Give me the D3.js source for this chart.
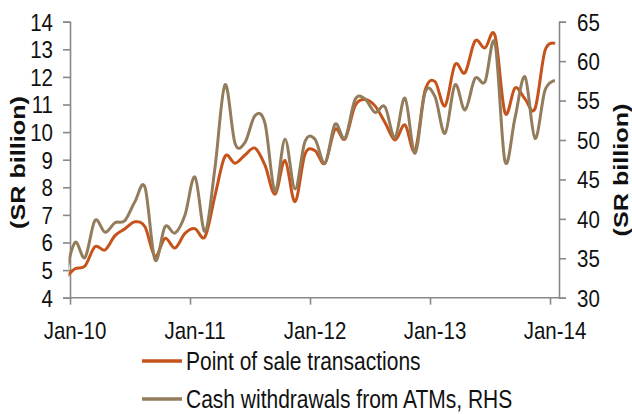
<!DOCTYPE html>
<html><head><meta charset="utf-8">
<script src="https://cdn.jsdelivr.net/npm/d3@7"></script>
<style>body{margin:0;background:#fff}svg text{font-family:"Liberation Sans",Arial,sans-serif;fill:#111}</style>
</head><body><svg id="c" width="632" height="414"></svg>
<script>
// Categories (monthly)
const months = ["Dec-09","Jan-10","Feb-10","Mar-10","Apr-10","May-10","Jun-10","Jul-10","Aug-10","Sep-10","Oct-10","Nov-10","Dec-10",
"Jan-11","Feb-11","Mar-11","Apr-11","May-11","Jun-11","Jul-11","Aug-11","Sep-11","Oct-11","Nov-11","Dec-11",
"Jan-12","Feb-12","Mar-12","Apr-12","May-12","Jun-12","Jul-12","Aug-12","Sep-12","Oct-12","Nov-12","Dec-12",
"Jan-13","Feb-13","Mar-13","Apr-13","May-13","Jun-13","Jul-13","Aug-13","Sep-13","Oct-13","Nov-13","Dec-13","Jan-14"];
// Point of sale transactions (SR billion, left axis)
const posValues = [4.7,5.05,5.15,5.85,5.73,6.25,6.5,6.75,6.57,5.5,6.15,5.8,6.33,6.5,6.21,7.7,9.12,8.87,9.17,9.42,8.8,7.75,8.97,7.48,9.2,9.33,8.87,10.1,9.75,10.95,11.18,10.95,10.35,9.71,10.26,9.32,11.5,11.83,10.95,12.45,12.15,13.3,13.05,13.5,10.7,11.6,11.2,10.85,12.95,13.2];
// Cash withdrawals from ATMs (SR billion, right axis)
const atmValues = [32.5,37.0,35.1,39.8,38.3,39.5,39.8,42.2,44.0,34.8,39.0,38.2,40.5,45.3,38.4,46.5,57.0,49.6,49.7,53.1,52.1,43.5,50.1,43.8,49.8,50.1,47.05,52.0,50.2,55.1,55.2,53.5,54.2,50.3,55.3,48.3,56.0,55.5,50.85,57.0,53.8,57.8,57.4,62.3,47.3,52.8,58.0,50.2,56.3,57.5];
const leftTicks = [4,5,6,7,8,9,10,11,12,13,14];
const rightTicks = [30,35,40,45,50,55,60,65];
const xLabels = ["Jan-10","Jan-11","Jan-12","Jan-13","Jan-14"];
const seriesNames = ["Point of sale transactions","Cash withdrawals from ATMs, RHS"];
const colors = ["#C5531B","#927C5B"];

const svg = d3.select("#c");
const L = 70, R = 559, T = 21.7, B = 297.7;
const STR = 1.2; // vertical stretch of glyphs
const x = d3.scaleLinear().domain([0, months.length - 1]).range([65, 555]);
const yL = d3.scaleLinear().domain([4, 14]).range([B, T]);
const yR = d3.scaleLinear().domain([30, 65]).range([B, T]);
const axisColor = "#888";

svg.append("defs").append("clipPath").attr("id","clip")
  .append("rect").attr("x", L - 1.5).attr("y", 0).attr("width", R - L + 1.5).attr("height", 414);

// Axes
const gL = svg.append("g").attr("transform", `translate(${L},0)`)
  .call(d3.axisLeft(yL).tickValues(leftTicks).tickSize(7).tickFormat(""));
const gR = svg.append("g").attr("transform", `translate(${R},0)`)
  .call(d3.axisRight(yR).tickValues(rightTicks).tickSize(7).tickFormat(""));
const tickIdx = xLabels.map(l => months.indexOf(l) - 0.5);
const gB = svg.append("g").attr("transform", `translate(0,${B})`)
  .call(d3.axisBottom(x).tickValues(tickIdx).tickSize(7).tickFormat(""));
gB.select(".domain").attr("d", `M${L},0H${R}`);
[gL, gR, gB].forEach(g => {
  g.selectAll("path,line").attr("stroke", axisColor).attr("stroke-width", 1.6);
});

function stext(px, py, str, size, anchor, weight) {
  return svg.append("text")
    .attr("transform", `translate(${px},${py}) scale(1,${STR})`)
    .attr("text-anchor", anchor).attr("font-size", size)
    .attr("font-weight", weight || "normal").text(str);
}
const capOff = 0.716 * 20.5 * STR / 2;
leftTicks.forEach(v => stext(53, yL(v) + capOff, v, 20.5, "end"));
rightTicks.forEach(v => stext(577, yR(v) + capOff, v, 20.5, "start"));
xLabels.forEach(l => stext(x(months.indexOf(l)), 339, l, 20.5, "middle"));

// Axis titles
[[25, 162.5], [627.5, 170]].forEach(([tx, ty]) => {
  svg.append("text")
    .attr("transform", `translate(${tx},${ty}) rotate(-90) scale(${STR},1)`)
    .attr("text-anchor", "middle").attr("font-size", 21).attr("font-weight", "bold")
    .text("(SR billion)");
});

// Lines
const plot = svg.append("g").attr("clip-path", "url(#clip)");
const lineL = d3.line().x((d, i) => x(i)).y(d => yL(d)).curve(d3.curveCatmullRom.alpha(0));
const lineR = d3.line().x((d, i) => x(i)).y(d => yR(d)).curve(d3.curveCatmullRom.alpha(0));
plot.append("path").attr("d", lineL(posValues)).attr("fill", "none")
  .attr("stroke", colors[0]).attr("stroke-width", 3).attr("stroke-linejoin", "round");
plot.append("path").attr("d", lineR(atmValues)).attr("fill", "none")
  .attr("stroke", colors[1]).attr("stroke-width", 3).attr("stroke-linejoin", "round");

// Legend
const legY = [361, 399];
seriesNames.forEach((name, k) => {
  svg.append("line").attr("x1", 142).attr("x2", 182).attr("y1", legY[k]).attr("y2", legY[k])
    .attr("stroke", colors[k]).attr("stroke-width", 3.5);
  stext(186, legY[k] + 9, name, 21, "start");
});
</script></body></html>
